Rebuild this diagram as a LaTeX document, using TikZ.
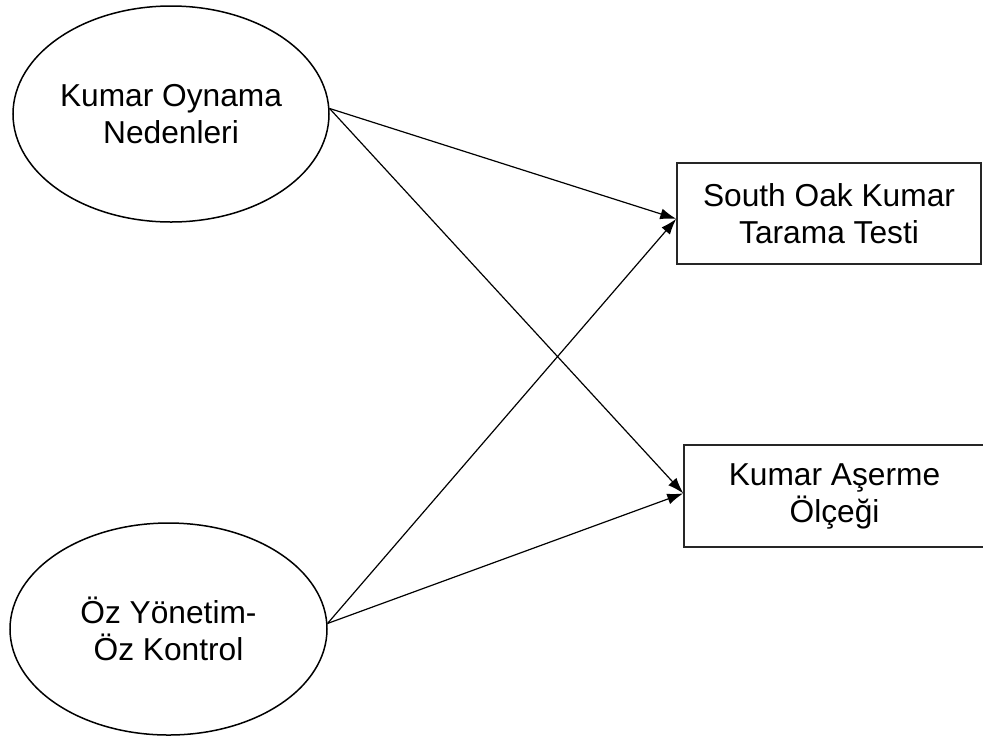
\documentclass[tikz,border=0pt]{standalone}
\usepackage{fontspec}
\setmainfont{Liberation Sans}
\usetikzlibrary{shapes.geometric,arrows.meta}
\tikzset{
        latent/.style={ellipse, draw=black, line width=0.75pt, inner sep=0pt, align=center, font=\fontsize{15.85}{18.5}\selectfont},
        observed/.style={rectangle, draw=black!85, line width=0.75pt, inner sep=0pt, align=center, font=\fontsize{15.85}{18.5}\selectfont},
        effect/.style={-{Latex[length=8pt,width=5.5pt]}, line width=0.6pt}
          }

\begin{document}
\begin{tikzpicture}[x=0.5pt, y=-0.5pt]
        \useasboundingbox (0,0) rectangle (983,740);
        % latent variables
        \node[latent, minimum width=158pt, minimum height=108pt] (kon) at (171,114) {Kumar Oynama\\Nedenleri};
        \node[latent, minimum width=158.5pt, minimum height=106pt] (ozk) at (168.5,629) {Öz Yönetim-\\Öz Kontrol};
        % scales
        \node[observed, minimum width=152pt, minimum height=50.5pt] (sok) at (829,213.5) {South Oak Kumar\\Tarama Testi};
        \node[observed, minimum width=150.5pt, minimum height=51pt] (kao) at (834.5,496) {Kumar Aşerme\\Ölçeği};
        \draw[effect] (kon.2) -- (sok.182);
        \draw[effect] (kon.2) -- (kao.179);
        \draw[effect] (ozk.2) -- (sok.182);
        \draw[effect] (ozk.2) -- (kao.179);
      \end{tikzpicture}
\end{document}
